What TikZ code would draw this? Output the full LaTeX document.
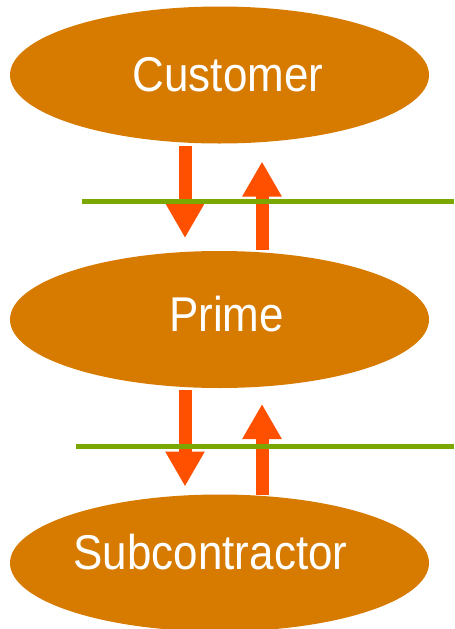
\documentclass[tikz,border=0pt]{standalone}
\usepackage{fontspec}
\setmainfont{Liberation Sans}[FakeStretch=0.9]
\usepackage{tikz}
\usetikzlibrary{shapes.geometric,arrows.meta}
\definecolor{partyfill}{RGB}{215,123,0}
\definecolor{flowred}{RGB}{255,80,0}
\definecolor{linegreen}{RGB}{122,168,0}

\begin{document}
\begin{tikzpicture}
	\tikzset{
		party/.style={ellipse,fill=partyfill,draw=none,inner sep=0pt,outer sep=0pt,
			minimum width=8.38cm,minimum height=2.74cm,text=white,
			font=\fontsize{27.8}{30}\selectfont},
		flow/.style={flowred,line width=0.26cm,-{Triangle[length=0.7cm,width=0.74cm]}},
		divider/.style={linegreen,line width=0.1cm}}
	\useasboundingbox (0,0) rectangle (9.08,-12.58);
	\node[party](cust) at (4.39,-1.5){\kern0.34cm Customer};
	\node[party,text depth=0.22cm](prime) at (4.39,-6.39){\kern0.28cm Prime};
	\node[party,text depth=0.44cm](sub) at (4.39,-11.26){Subcontractor\kern0.36cm};
	\draw[flow,shorten <=0.04cm,shorten >=0.26cm]([xshift=-0.69cm]cust.south)--([xshift=-0.69cm]prime.north);
	\draw[flow,shorten <=0.02cm,shorten >=0.36cm]([xshift=0.85cm]prime.north)--([xshift=0.85cm]cust.south);
	\draw[flow,shorten <=0.04cm,shorten >=0.16cm]([xshift=-0.69cm]prime.south)--([xshift=-0.69cm]sub.north);
	\draw[flow,shorten >=0.32cm]([xshift=0.85cm]sub.north)--([xshift=0.85cm]prime.south);
	\draw[divider](1.64,-4.03)--(9.08,-4.03);
	\draw[divider](1.52,-8.92)--(9.08,-8.92);
\end{tikzpicture}
\end{document}
